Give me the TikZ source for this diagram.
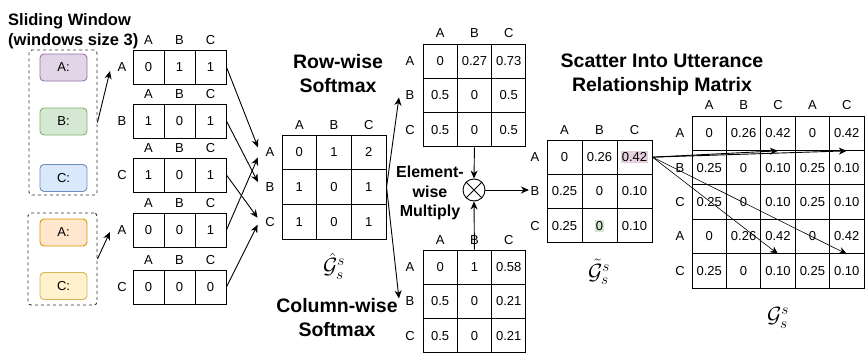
\documentclass[tikz,border=0pt]{standalone}
\usepackage{fix-cm}
\usepackage{fontspec}
\setmainfont{Liberation Sans}
\usetikzlibrary{arrows.meta}

\definecolor{uttApurple}{HTML}{E1D5E7}
\definecolor{uttAline}{HTML}{9673A6}
\definecolor{uttBgreen}{HTML}{D5E8D4}
\definecolor{uttBline}{HTML}{82B366}
\definecolor{uttCblue}{HTML}{DAE8FC}
\definecolor{uttCline}{HTML}{6C8EBF}
\definecolor{uttAorange}{HTML}{FFE6CC}
\definecolor{uttAoline}{HTML}{D79B00}
\definecolor{uttCyellow}{HTML}{FFF2CC}
\definecolor{uttCyline}{HTML}{D6B656}
\definecolor{hlpink}{HTML}{E6D0DE}
\definecolor{hlgreen}{HTML}{D5E8D4}

\newcommand{\hlbox}[2]{{\fboxsep=1.2pt\colorbox{#1}{#2}}}

\tikzset{
  cell/.style={draw, line width=0.9pt, inner sep=0pt, font=\fontsize{13}{15}\selectfont},
  lbl/.style={inner sep=1.5pt, font=\fontsize{13}{15}\selectfont},
  utt/.style={draw, line width=0.9pt, rounded corners=4pt, minimum width=47pt,
    minimum height=27pt, font=\fontsize{13}{15}\selectfont},
  grp/.style={draw=black!80, dash pattern=on 3pt off 3pt, line width=0.9pt, rounded corners=3pt},
  heading/.style={align=center, inner sep=0pt, font=\bfseries\fontsize{19.5}{24}\selectfont},
  mathname/.style={inner sep=0pt, font=\fontsize{22}{24}\selectfont},
  arr/.style={-{Stealth[length=8pt,width=7pt,inset=2.5pt]}, line width=0.9pt},
  thinarr/.style={-{Stealth[length=8pt,width=7pt,inset=2.5pt]}, line width=0.6pt}
}

\begin{document}
\begin{tikzpicture}[x=1pt, y=-1pt]
  \useasboundingbox (0,0) rectangle (865,356);

  % sliding windows over the utterances
  \node[anchor=west, align=left, inner sep=0pt, font=\bfseries\fontsize{16.5}{20}\selectfont]
    (slidetitle) at (8,31.5) {Sliding Window\\(windows size 3)};
  \node[grp, minimum width=68pt, minimum height=145pt] (grp1) at (63,122.5) {};
  \node[grp, minimum width=69pt, minimum height=92pt] (grp2) at (62.5,259) {};
  \node[utt, fill=uttApurple, draw=uttAline] (uttA1) at (63.5,67.5) {A:};
  \node[utt, fill=uttBgreen, draw=uttBline] (uttB1) at (63.5,121.5) {B:};
  \node[utt, fill=uttCblue, draw=uttCline] (uttC1) at (63.5,178) {C:};
  \node[utt, fill=uttAorange, draw=uttAoline] (uttA2) at (63.5,232.5) {A:};
  \node[utt, fill=uttCyellow, draw=uttCyline] (uttC2) at (63.5,286) {C:};

  % one row per utterance in the window
  \foreach \lab/\vals/\ty [count=\k] in {A/{0,1,1}/50, B/{1,0,1}/104, C/{1,0,1}/158,
      A/{0,0,1}/213, C/{0,0,0}/270} {
    \node[lbl] (win\k-r) at (122,{\ty+17}) {\lab};
    \foreach \h [count=\j] in {A,B,C}
      \node[lbl] (win\k-h\j) at ({133+31*(\j-0.5)},{\ty-10}) {\h};
    \foreach \v [count=\j] in \vals
      \node[cell, minimum width=31pt, minimum height=34pt] (win\k-\j)
        at ({133+31*(\j-0.5)},{\ty+17}) {\v};
  }
  \draw[arr] (grp1.east) -- ([xshift=-6pt,yshift=-4pt]win1-r.west);
  \draw[arr] (grp2.east) -- ([xshift=-6pt,yshift=-2pt]win4-r.west);

  % summed window graph
  \begin{scope}[shift={(282,135)}, cell/.append style={minimum width=34.7pt, minimum height=34.7pt}]
    \foreach \h [count=\j] in {A,B,C} {
      \node[lbl] (hat-h\j) at ({34.7*(\j-0.5)},-10) {\h};
      \node[lbl] (hat-r\j) at (-12,{34.7*(\j-0.5)}) {\h};
    }
    \foreach \vals [count=\i] in {{0,1,2},{1,0,1},{1,0,1}}
      \foreach \v [count=\j] in \vals
        \node[cell] (hat-\i-\j) at ({34.7*(\j-0.5)},{34.7*(\i-0.5)}) {\v};
  \end{scope}
  \node[mathname] (hatname) at (334,266) {$\hat{\mathcal{G}}_s^s$};

  \draw[arr] (win1-3.east) -- ([xshift=-6pt,yshift=5pt]hat-r1.west);
  \draw[arr] (win2-3.east) -- ([xshift=-6pt,yshift=5pt]hat-r2.west);
  \draw[arr] (win3-3.east) -- ([xshift=-6pt,yshift=4pt]hat-r3.west);
  \draw[arr] (win4-3.east) -- ([xshift=-6pt,yshift=-5pt]hat-r1.west);
  \draw[arr] (win5-3.east) -- ([xshift=-6pt,yshift=-3pt]hat-r3.west);

  % the two softmax directions
  \node[heading] (rowtitle) at (338,73.5) {Row-wise\\Softmax};
  \begin{scope}[shift={(423,44)}, cell/.append style={minimum width=34.3pt, minimum height=34.3pt}]
    \foreach \h [count=\j] in {A,B,C} {
      \node[lbl] (rowsm-h\j) at ({34.3*(\j-0.5)},-11) {\h};
      \node[lbl] (rowsm-r\j) at (-13,{34.3*(\j-0.5)}) {\h};
    }
    \foreach \vals [count=\i] in {{0,0.27,0.73},{0.5,0,0.5},{0.5,0,0.5}}
      \foreach \v [count=\j] in \vals
        \node[cell] (rowsm-\i-\j) at ({34.3*(\j-0.5)},{34.3*(\i-0.5)}) {\v};
  \end{scope}

  \node[heading] (coltitle) at (337,318) {Column-wise\\Softmax};
  \begin{scope}[shift={(423,250)}, cell/.append style={minimum width=34.3pt, minimum height=34.3pt}]
    \foreach \h [count=\j] in {A,B,C} {
      \node[lbl] (colsm-h\j) at ({34.3*(\j-0.5)},-10) {\h};
      \node[lbl] (colsm-r\j) at (-13,{34.3*(\j-0.5)}) {\h};
    }
    \foreach \vals [count=\i] in {{0,1,0.58},{0.5,0,0.21},{0.5,0,0.21}}
      \foreach \v [count=\j] in \vals
        \node[cell] (colsm-\i-\j) at ({34.3*(\j-0.5)},{34.3*(\i-0.5)}) {\v};
  \end{scope}

  \draw[arr] (hat-2-3.east) -- ([xshift=-5pt,yshift=-2pt]rowsm-r2.west);
  \draw[arr] (hat-2-3.east) -- ([xshift=-5pt,yshift=3pt]colsm-r2.west);

  % element-wise product
  \node[align=center, inner sep=0pt, font=\bfseries\fontsize{16}{19.5}\selectfont]
    (multname) at (430,193) {Element-\\wise\\Multiply};
  \node[draw, circle, line width=0.9pt, minimum size=22pt, inner sep=0pt] (mult) at (474,190) {};
  \draw[line width=0.9pt] (mult.45) -- (mult.225) (mult.135) -- (mult.-45);
  \draw[arr] (rowsm-3-2.south) -- (mult.north);
  \draw[arr] (colsm-1-2.north) -- (mult.south);

  \begin{scope}[shift={(547,140)}, cell/.append style={minimum width=35pt, minimum height=34.3pt}]
    \foreach \h [count=\j] in {A,B,C} {
      \node[lbl] (tilde-h\j) at ({35*(\j-0.5)},-10) {\h};
      \node[lbl] (tilde-r\j) at (-12,{34.3*(\j-0.5)}) {\h};
    }
    \foreach \vals [count=\i] in {{0,0.26,\hlbox{hlpink}{0.42}},{0.25,0,0.10},{0.25,\hlbox{hlgreen}{0},0.10}}
      \foreach \v [count=\j] in \vals
        \node[cell] (tilde-\i-\j) at ({35*(\j-0.5)},{34.3*(\i-0.5)}) {\v};
  \end{scope}
  \node[mathname] (tildename) at (599,272) {$\tilde{\mathcal{G}}_s^s$};
  \draw[arr] (mult.east) -- (mult.east -| tilde-r2.west);

  % scatter back into the utterance relationship matrix
  \node[heading] (scattertitle) at (662,75) {Scatter Into Utterance\\Relationship Matrix};
  \begin{scope}[shift={(692,116)}, cell/.append style={minimum width=34.4pt, minimum height=34.4pt}]
    \foreach \h [count=\j] in {A,B,C,A,C} {
      \node[lbl] (full-h\j) at ({34.4*(\j-0.5)},-11) {\h};
      \node[lbl] (full-r\j) at (-12,{34.4*(\j-0.5)}) {\h};
    }
    \foreach \vals [count=\i] in {{0,0.26,0.42,0,0.42},{0.25,0,0.10,0.25,0.10},
        {0.25,0,0.10,0.25,0.10},{0,0.26,0.42,0,0.42},{0.25,0,0.10,0.25,0.10}}
      \foreach \v [count=\j] in \vals
        \node[cell] (full-\i-\j) at ({34.4*(\j-0.5)},{34.4*(\i-0.5)}) {\v};
  \end{scope}
  \node[mathname] (fullname) at (778,318) {$\mathcal{G}_s^s$};

  \draw[arr] (tilde-1-3.east) -- (full-1-3.south);
  \draw[arr] (tilde-1-3.east) -- (full-1-5.south);
  \draw[thinarr] (tilde-1-3.east) -- (full-4-3.south);
  \draw[thinarr] (tilde-1-3.east) -- (full-4-5.south);
\end{tikzpicture}
\end{document}
